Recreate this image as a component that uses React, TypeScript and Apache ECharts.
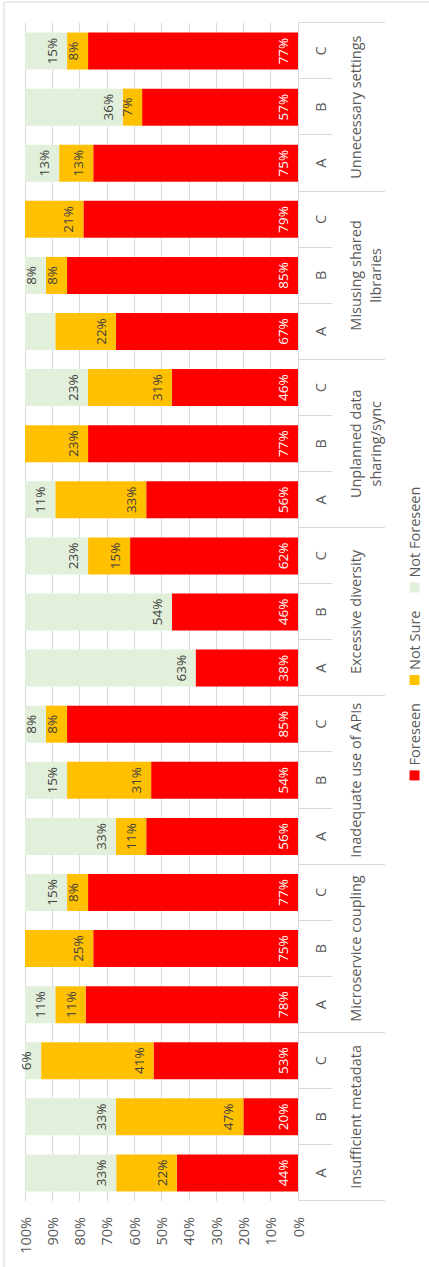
import React, { useEffect, useRef } from "react";
import * as echarts from "echarts";

const groups = [
  "Insufficient metadata",
  "Microservice coupling",
  "Inadequate use of APIs",
  "Excessive diversity",
  "Unplanned data sharing/sync",
  "Misusing shared libraries",
  "Unnecessary settings",
];
// how each group name is broken over lines on the axis
const groupAxisLabels = [
  "Insufficient metadata",
  "Microservice coupling",
  "Inadequate use of APIs",
  "Excessive diversity",
  "Unplanned data\nsharing/sync",
  "Misusing shared\nlibraries",
  "Unnecessary settings",
];
const subLabels = ["A", "B", "C"];
const categories = groups.flatMap((g) => subLabels.map((s) => `${g} ${s}`));

const foreseen = [44.4, 20.0, 52.9, 77.8, 75.0, 76.9, 55.6, 53.8, 84.6, 37.5, 46.2, 61.5, 55.6, 76.9, 46.2, 66.7, 84.6, 78.6, 75.0, 57.1, 76.9];
const notSure = [22.2, 46.7, 41.2, 11.1, 25.0, 7.7, 11.1, 30.8, 7.7, 0, 0, 15.4, 33.3, 23.1, 30.8, 22.2, 7.7, 21.4, 12.5, 7.1, 7.7];
const notForeseen = [33.3, 33.3, 5.9, 11.1, 0, 15.4, 33.3, 15.4, 7.7, 62.5, 53.8, 23.1, 11.1, 0, 23.1, 11.1, 7.7, 0, 12.5, 35.7, 15.4];
// Not Foreseen label not shown in the reference for this bar
const hiddenNotForeseenLabels = [15];

const valueTicks = [0, 10, 20, 30, 40, 50, 60, 70, 80, 90, 100];

const FONT = "'Open Sans', sans-serif";

export default function App() {
  const ref = useRef<HTMLDivElement>(null);
  useEffect(() => {
    if (!ref.current) return;
    const chart = echarts.init(ref.current, undefined, { renderer: "svg" });
    const fmt = (p: any) => {
      const v = typeof p.value === "number" ? p.value : 0;
      return v > 0 ? `${Math.round(v)}%` : "";
    };
    const labelBase = {
      show: true,
      position: "insideBottom",
      distance: 8,
      fontFamily: FONT,
      fontSize: 13.5,
      formatter: fmt,
    };
    chart.setOption({
      animation: false,
      backgroundColor: "#ffffff",
      textStyle: { fontFamily: FONT },
      grid: { left: 66, right: 23, top: 25, bottom: 131, containLabel: false },
      legend: {
        data: ["Foreseen", "Not Sure", "Not Foreseen"],
        top: 402,
        left: "center",
        itemWidth: 10,
        itemHeight: 10,
        itemGap: 18,
        icon: "rect",
        textStyle: { fontFamily: FONT, fontSize: 14.5, color: "#595959" },
      },
      xAxis: [
        {
          type: "category",
          data: categories,
          position: "bottom",
          axisLine: { show: true, lineStyle: { color: "#D9D9D9", width: 1 } },
          axisTick: { show: true, length: 34, interval: 0, lineStyle: { color: "#D9D9D9" } },
          axisLabel: {
            interval: 0,
            margin: 15,
            fontFamily: FONT,
            fontSize: 14.5,
            color: "#595959",
            formatter: (v: string) => v.slice(-1),
          },
        },
        {
          type: "category",
          data: groups,
          position: "bottom",
          axisLine: { show: false },
          axisTick: { show: true, length: 87, interval: 0, lineStyle: { color: "#D9D9D9" } },
          axisLabel: {
            interval: 0,
            margin: 47,
            fontFamily: FONT,
            fontSize: 14.5,
            lineHeight: 20,
            color: "#595959",
            formatter: (_v: string, i: number) => groupAxisLabels[i],
          },
        },
      ],
      yAxis: {
        type: "value",
        min: 0,
        max: 100,
        interval: 10,
        axisLine: { show: false },
        axisTick: { show: false },
        splitLine: { lineStyle: { color: "#D9D9D9", width: 1 } },
        axisLabel: {
          margin: 16,
          fontFamily: FONT,
          fontSize: 14.5,
          color: "#595959",
          formatter: (v: number) => (valueTicks.includes(v) ? `${v}%` : ""),
        },
      },
      series: [
        {
          name: "Foreseen",
          type: "bar",
          stack: "total",
          barWidth: 37,
          itemStyle: { color: "#FF0000" },
          label: { ...labelBase, color: "#FFFFFF" },
          data: foreseen,
        },
        {
          name: "Not Sure",
          type: "bar",
          stack: "total",
          barWidth: 37,
          itemStyle: { color: "#FFC000" },
          label: { ...labelBase, color: "#404040" },
          data: notSure,
        },
        {
          name: "Not Foreseen",
          type: "bar",
          stack: "total",
          barWidth: 37,
          itemStyle: { color: "#E2EFDA" },
          label: { ...labelBase, color: "#404040" },
          data: notForeseen.map((v, i) =>
            hiddenNotForeseenLabels.includes(i) ? { value: v, label: { show: false } } : v
          ),
        },
      ],
      graphic: [
        {
          type: "rect",
          silent: true,
          shape: { x: -20, y: 4, width: 1285, height: 500 },
          style: { fill: "none", stroke: "#D9D9D9", lineWidth: 1 },
        },
      ],
    });
    return () => chart.dispose();
  }, []);

  return (
    <div
      style={{
        position: "absolute",
        left: 0,
        top: 0,
        width: 429,
        height: 1267,
        overflow: "hidden",
        background: "#fff",
      }}
    >
      <div
        ref={ref}
        style={{
          position: "absolute",
          left: 0,
          top: 0,
          width: 1267,
          height: 429,
          transformOrigin: "0 0",
          transform: "translateY(1267px) rotate(-90deg)",
        }}
      />
    </div>
  );
}
